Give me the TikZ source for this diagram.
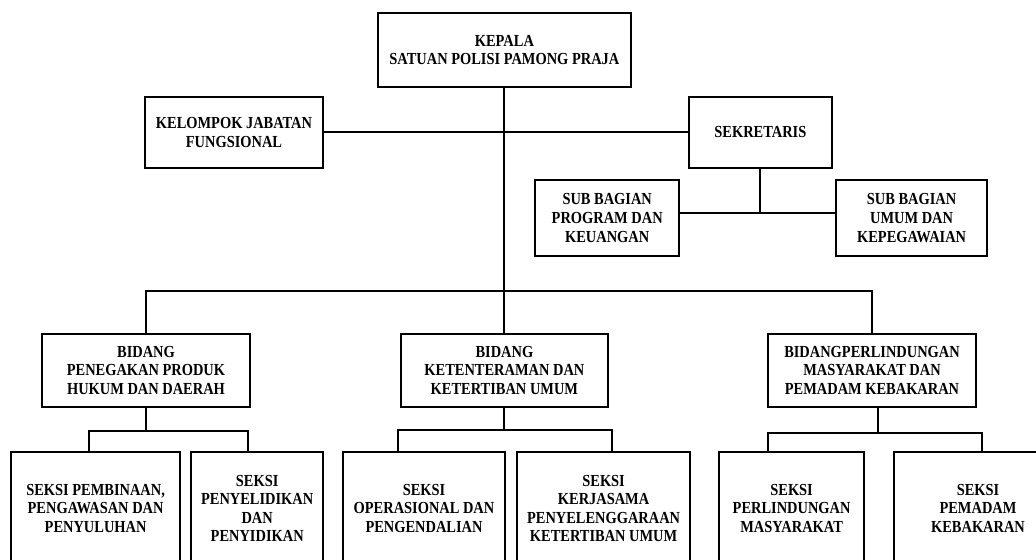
\documentclass[tikz,border=0pt]{standalone}
\usepackage{fontspec}
\setmainfont{Liberation Serif}[FakeStretch=0.855]
\usetikzlibrary{positioning, calc}

\begin{document}
\begin{tikzpicture}[
  unit/.style={draw=black, line width=1.4pt, fill=white, align=center, inner sep=2pt,
    font=\bfseries\fontsize{12}{13.2}\selectfont},
  link/.style={draw=black, line width=1.4pt}
]
  \useasboundingbox (0,0) rectangle (25.9,-13.975);
  \clip (0,0) rectangle (25.9,-13.975);
  % Kepala
  \node[unit, minimum width=6.33cm, minimum height=1.85cm] (kepala) at (12.61,-1.25) {KEPALA\\SATUAN POLISI PAMONG PRAJA};
  % Fungsional & Sekretariat
  \node[unit, minimum width=4.45cm, minimum height=1.78cm] (kelompok) at (5.85,-3.31) {KELOMPOK JABATAN\\FUNGSIONAL};
  \node[unit, minimum width=3.58cm, minimum height=1.78cm] (sekretaris) at (19.01,-3.31) {SEKRETARIS};
  \node[unit, minimum width=3.6cm, minimum height=1.9cm] (subprog) at (15.18,-5.45) {SUB BAGIAN\\PROGRAM DAN\\KEUANGAN};
  \node[unit, minimum width=3.78cm, minimum height=1.9cm] (subumum) at (22.79,-5.45) {SUB BAGIAN\\UMUM DAN\\KEPEGAWAIAN};
  % Bidang
  \node[unit, minimum width=5.2cm, minimum height=1.83cm] (bidang1) at (3.65,-9.26) {BIDANG\\PENEGAKAN PRODUK\\HUKUM DAN DAERAH};
  \node[unit, minimum width=5.18cm, minimum height=1.83cm] (bidang2) at (12.61,-9.26) {BIDANG\\KETENTERAMAN DAN\\KETERTIBAN UMUM};
  \node[unit, minimum width=5.2cm, minimum height=1.83cm] (bidang3) at (21.8,-9.26) {BIDANGPERLINDUNGAN\\MASYARAKAT DAN\\PEMADAM KEBAKARAN};
  % Seksi (run off the page bottom)
  \node[unit, minimum width=4.23cm, minimum height=2.83cm] (seksi1) at (2.39,-12.71) {SEKSI PEMBINAAN,\\PENGAWASAN DAN\\PENYULUHAN};
  \node[unit, minimum width=3.3cm, minimum height=2.83cm] (seksi2) at (6.43,-12.71) {SEKSI\\PENYELIDIKAN\\DAN\\PENYIDIKAN};
  \node[unit, minimum width=4.05cm, minimum height=2.83cm] (seksi3) at (10.6,-12.71) {SEKSI\\OPERASIONAL DAN\\PENGENDALIAN};
  \node[unit, minimum width=4.33cm, minimum height=2.83cm] (seksi4) at (15.09,-12.71) {SEKSI\\KERJASAMA\\PENYELENGGARAAN\\KETERTIBAN UMUM};
  \node[unit, minimum width=3.63cm, minimum height=2.83cm] (seksi5) at (19.79,-12.71) {SEKSI\\PERLINDUNGAN\\MASYARAKAT};
  \node[unit, minimum width=4.2cm, minimum height=2.83cm] (seksi6) at (24.45,-12.71) {SEKSI\\PEMADAM\\KEBAKARAN};
  % Lines
  \draw[link] (kepala.south) -- (bidang2.north);
  \draw[link] (kelompok.east) -- (sekretaris.west);
  \draw[link] (sekretaris.south) -- ++(0,-1.1) coordinate (sj);
  \draw[link] (subprog.east |- sj) -- (subumum.west |- sj);
  \draw[link] (bidang1.north) -- ++(0,1.05) -| (bidang3.north);
  \draw[link] (bidang1.south) -- ++(0,-0.575) coordinate (j1);
  \draw[link] ([xshift=-1.65mm]seksi1.north) |- (j1) -| ([xshift=-2.3mm]seksi2.north);
  \draw[link] (bidang2.south) -- ++(0,-0.55) coordinate (j2);
  \draw[link] ([xshift=-6.5mm]seksi3.north) |- (j2) -| ([xshift=2.1mm]seksi4.north);
  \draw[link] ([xshift=1.5mm]bidang3.south) -- ++(0,-0.625) coordinate (j3);
  \draw[link] ([xshift=-5.9mm]seksi5.north) |- (j3) -| ([xshift=1mm]seksi6.north);
\end{tikzpicture}
\end{document}
